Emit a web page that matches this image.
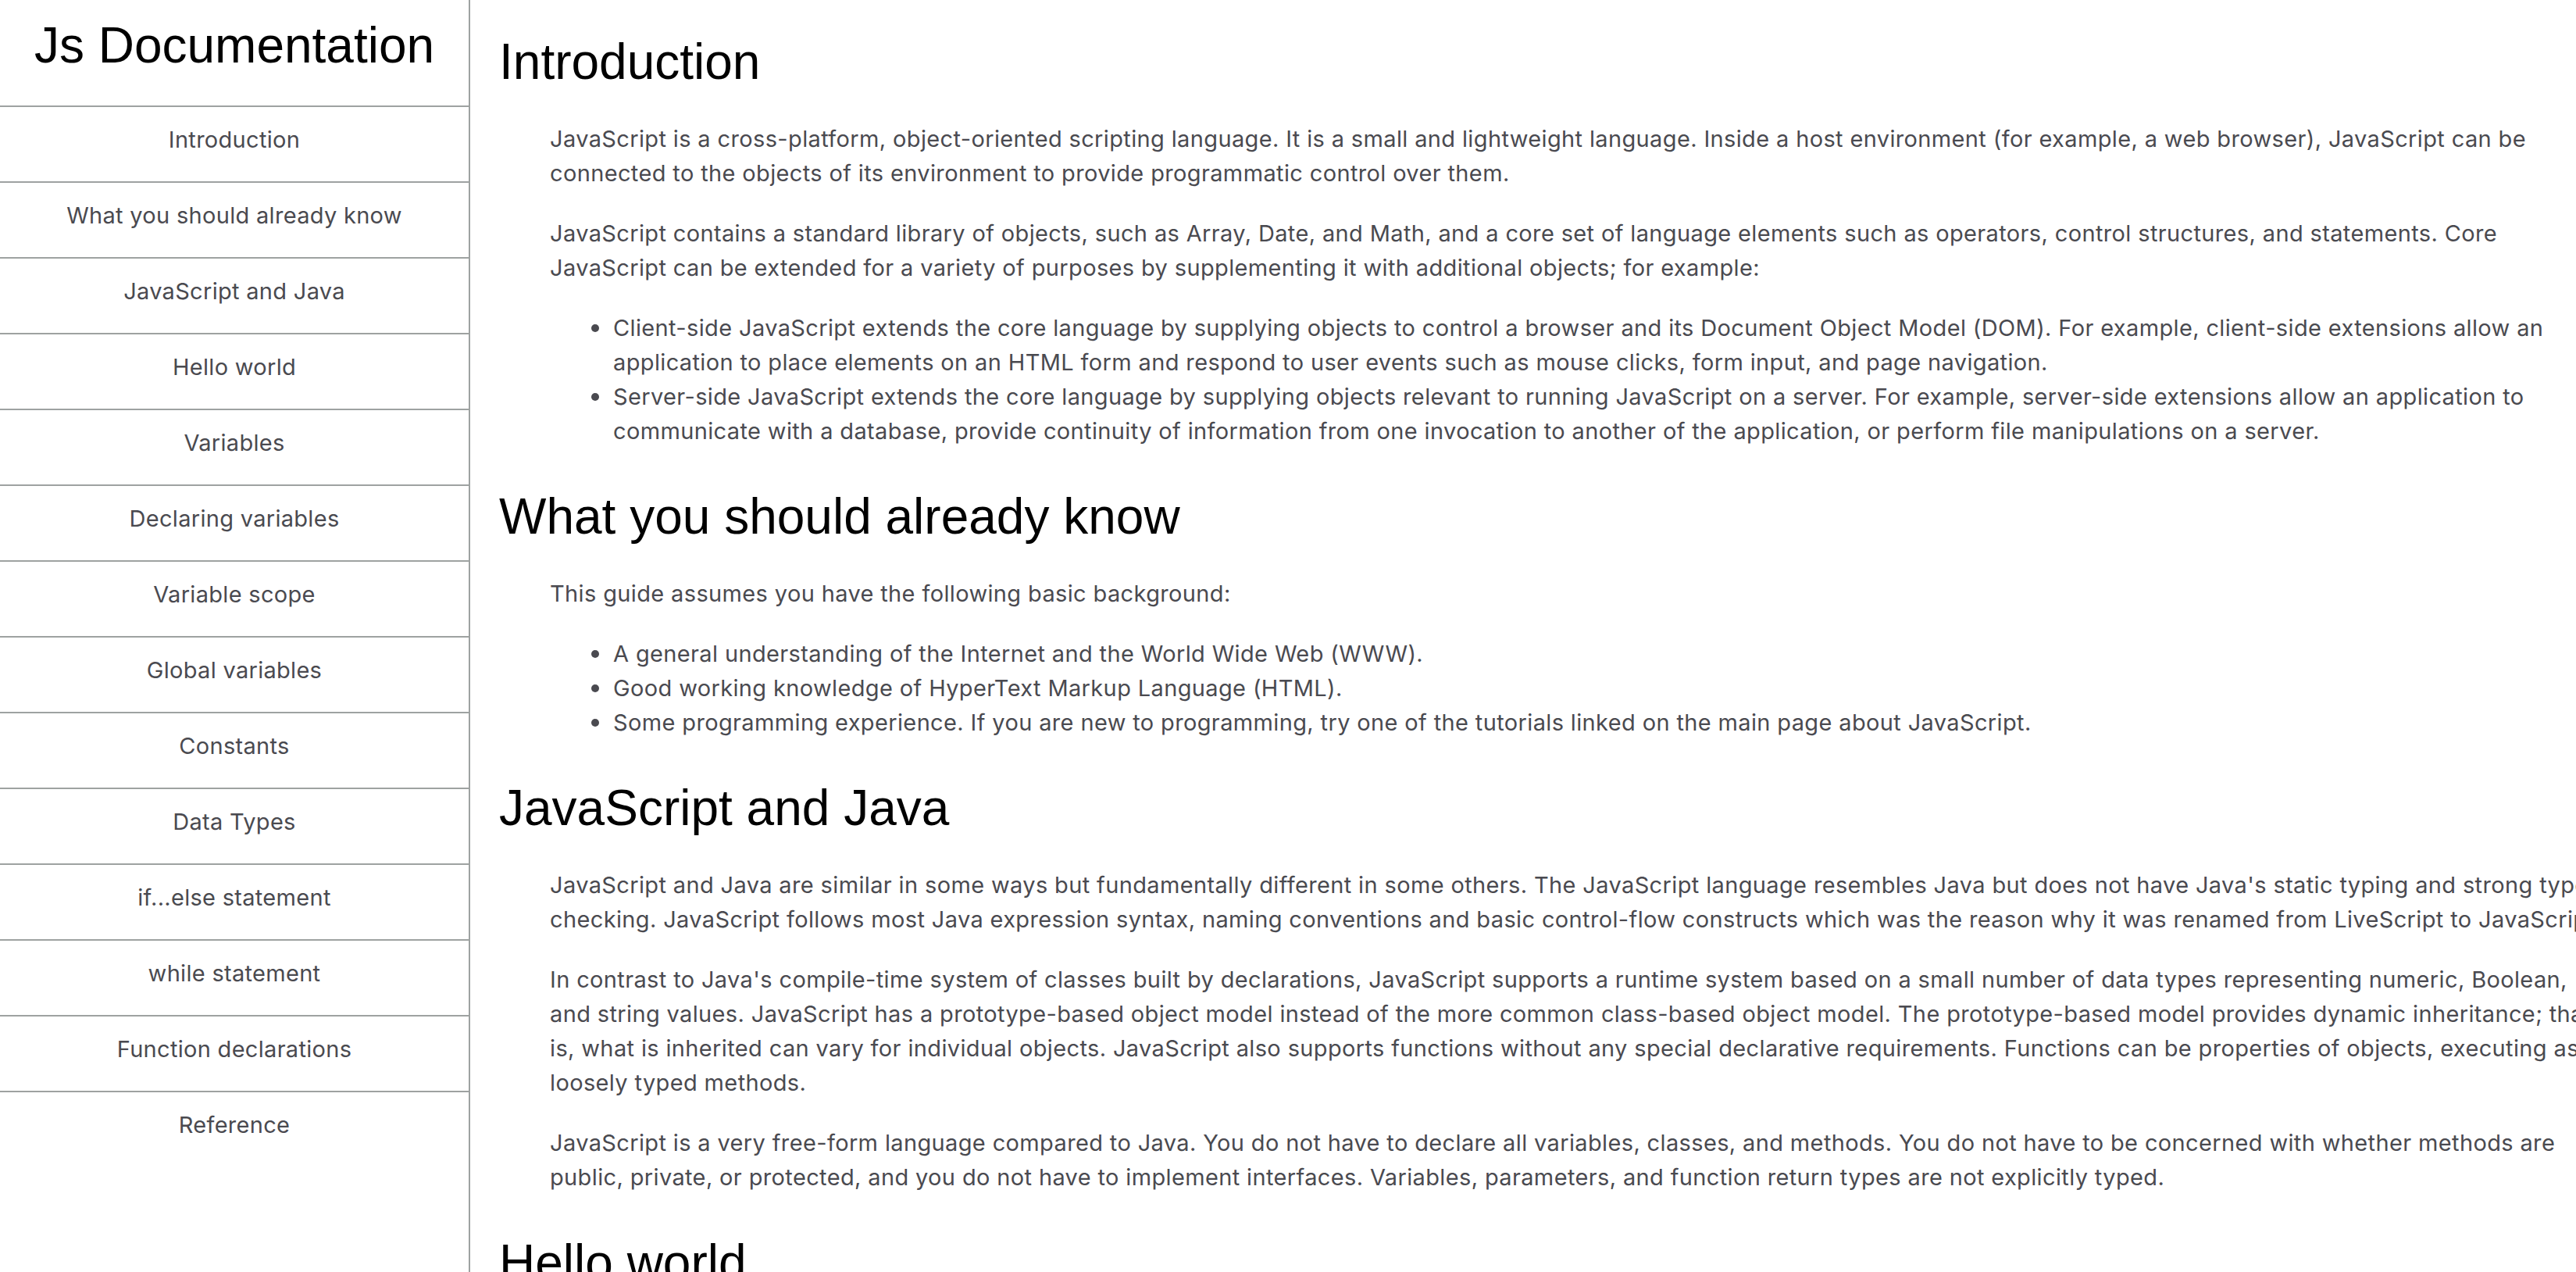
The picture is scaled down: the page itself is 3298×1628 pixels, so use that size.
<!DOCTYPE html>
<html>
<head>
<meta charset="utf-8">
<title>Js Documentation</title>
<script src="https://cdn.jsdelivr.net/npm/chart.js"></script>
<style>
  html, body { margin: 0; padding: 0; background: #fff; }
  body { width: 3298px; height: 1628px; overflow: hidden; position: relative; }
  #navbar {
    position: absolute; left: 0; top: 0; width: 600px; height: 1628px;
    border-right: 2px solid #9ea2a1; background: #fff;
  }
  #navbar header {
    height: 135px; text-align: center;
    font-family: "Liberation Sans", Arial, sans-serif; font-size: 64px; color: #000;
    line-height: 1;
  }
  #navbar header span { position: relative; top: 26px; }
  #navbar a {
    display: block; border-top: 2px solid #9ea2a1; text-align: center;
    font-family: Inter, "Noto Sans", sans-serif; font-size: 29px; letter-spacing: 0.3px; color: #4a4a50;
    line-height: 83px; padding-bottom: 12px; text-decoration: none;
  }
  #main {
    position: absolute; left: 602px; top: 0; padding-top: 0;
    white-space: nowrap;
  }
  #main h2 {
    margin: 50px 0 40px 37px; font-weight: normal;
    font-family: "Liberation Sans", Arial, sans-serif; font-size: 64px; line-height: 74px; color: #000;
  }
  #main section:first-child h2 { margin-top: 42px; }
  #main p, #main ul {
    margin: 0 0 33px 102px; padding: 0;
    font-family: Inter, "Noto Sans", sans-serif; font-size: 29px; letter-spacing: 0.36px;
    line-height: 44px; color: #4a4a50;
  }
  #main ul { list-style: none; margin-left: 183px; }
  #main li { position: relative; }
  #main li::before {
    content: ""; position: absolute; left: -28px; top: 17px;
    width: 10px; height: 10px; border-radius: 50%; background: #4a4a50;
  }
  .ln { display: block; }
</style>
</head>
<body>
<nav id="navbar"><header><span>Js Documentation</span></header><div id="links"></div></nav>
<main id="main"></main>
<script>
const navItems = [
  'Introduction', 'What you should already know', 'JavaScript and Java', 'Hello world',
  'Variables', 'Declaring variables', 'Variable scope', 'Global variables', 'Constants',
  'Data Types', 'if...else statement', 'while statement', 'Function declarations', 'Reference'
];

const introParagraphs = [
  ['JavaScript is a cross-platform, object-oriented scripting language. It is a small and lightweight language. Inside a host environment (for example, a web browser), JavaScript can be',
   'connected to the objects of its environment to provide programmatic control over them.'],
  ['JavaScript contains a standard library of objects, such as Array, Date, and Math, and a core set of language elements such as operators, control structures, and statements. Core',
   'JavaScript can be extended for a variety of purposes by supplementing it with additional objects; for example:']
];
const introBullets = [
  ['Client-side JavaScript extends the core language by supplying objects to control a browser and its Document Object Model (DOM). For example, client-side extensions allow an',
   'application to place elements on an HTML form and respond to user events such as mouse clicks, form input, and page navigation.'],
  ['Server-side JavaScript extends the core language by supplying objects relevant to running JavaScript on a server. For example, server-side extensions allow an application to',
   'communicate with a database, provide continuity of information from one invocation to another of the application, or perform file manipulations on a server.']
];

const knowParagraphs = [
  ['This guide assumes you have the following basic background:']
];
const knowBullets = [
  ['A general understanding of the Internet and the World Wide Web (WWW).'],
  ['Good working knowledge of HyperText Markup Language (HTML).'],
  ['Some programming experience. If you are new to programming, try one of the tutorials linked on the main page about JavaScript.']
];

const javaParagraphs = [
  ["JavaScript and Java are similar in some ways but fundamentally different in some others. The JavaScript language resembles Java but does not have Java's static typing and strong type",
   'checking. JavaScript follows most Java expression syntax, naming conventions and basic control-flow constructs which was the reason why it was renamed from LiveScript to JavaScript.'],
  ["In contrast to Java's compile-time system of classes built by declarations, JavaScript supports a runtime system based on a small number of data types representing numeric, Boolean,",
   'and string values. JavaScript has a prototype-based object model instead of the more common class-based object model. The prototype-based model provides dynamic inheritance; that',
   'is, what is inherited can vary for individual objects. JavaScript also supports functions without any special declarative requirements. Functions can be properties of objects, executing as',
   'loosely typed methods.'],
  ['JavaScript is a very free-form language compared to Java. You do not have to declare all variables, classes, and methods. You do not have to be concerned with whether methods are',
   'public, private, or protected, and you do not have to implement interfaces. Variables, parameters, and function return types are not explicitly typed.']
];

const sections = [
  { title: 'Introduction', paragraphs: introParagraphs, bullets: introBullets },
  { title: 'What you should already know', paragraphs: knowParagraphs, bullets: knowBullets },
  { title: 'JavaScript and Java', paragraphs: javaParagraphs, bullets: [] },
  { title: 'Hello world', paragraphs: [], bullets: [] }
];

const links = document.getElementById('links');
navItems.forEach(function (name) {
  const a = document.createElement('a');
  a.className = 'nav-link';
  a.href = '#' + name.replace(/ /g, '_');
  a.textContent = name;
  links.appendChild(a);
});

function lines(el, arr) {
  arr.forEach(function (t) {
    const s = document.createElement('span');
    s.className = 'ln';
    s.textContent = t;
    el.appendChild(s);
  });
}

const main = document.getElementById('main');
sections.forEach(function (sec) {
  const box = document.createElement('section');
  box.className = 'main-section';
  box.id = sec.title.replace(/ /g, '_');
  const h = document.createElement('h2');
  h.textContent = sec.title;
  box.appendChild(h);
  sec.paragraphs.forEach(function (p) {
    const el = document.createElement('p');
    lines(el, p);
    box.appendChild(el);
  });
  if (sec.bullets.length) {
    const ul = document.createElement('ul');
    sec.bullets.forEach(function (b) {
      const li = document.createElement('li');
      lines(li, b);
      ul.appendChild(li);
    });
    box.appendChild(ul);
  }
  main.appendChild(box);
});
</script>
</body>
</html>
